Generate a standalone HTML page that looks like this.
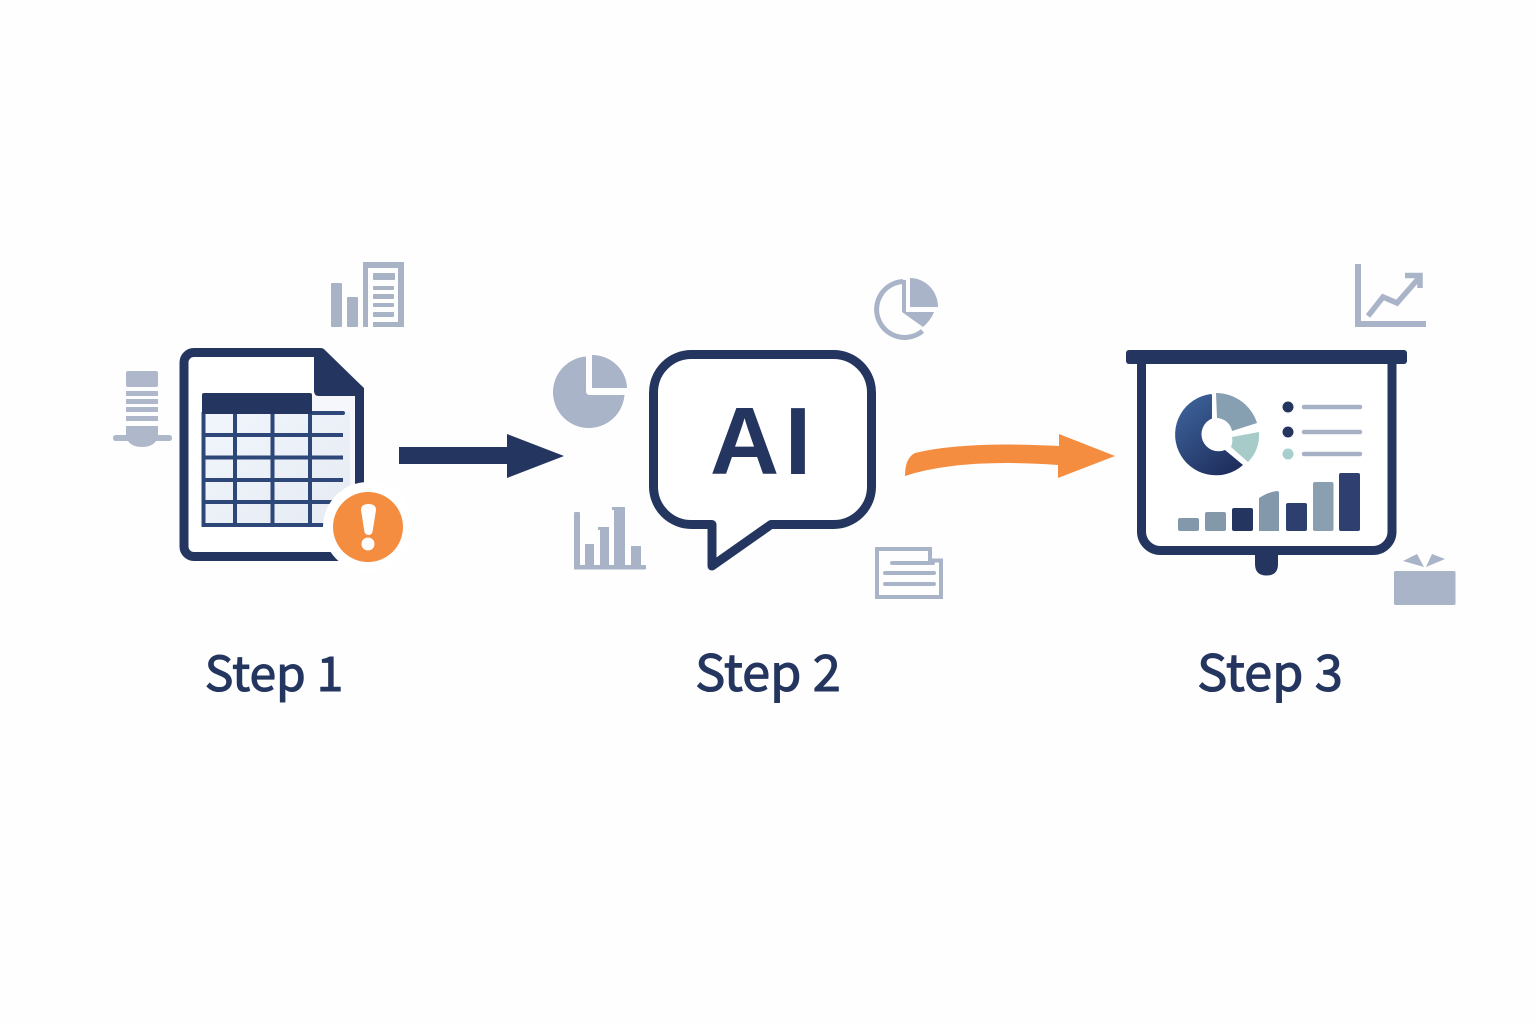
<!DOCTYPE html>
<html><head><meta charset="utf-8"><title>Step 1, Step 2, Step 3</title>
<style>html,body{margin:0;padding:0;background:#fefefe}svg{display:block}</style></head>
<body>
<svg width="1536" height="1024" viewBox="0 0 1536 1024" xmlns="http://www.w3.org/2000/svg">
<defs>
<linearGradient id="dk" x1="0.2" y1="0.1" x2="0.8" y2="0.95"><stop offset="0" stop-color="#3b5f96"/><stop offset="1" stop-color="#1f2f5e"/></linearGradient>
<linearGradient id="cell" x1="0" y1="0" x2="1" y2="1"><stop offset="0" stop-color="#f1f5fc"/><stop offset="1" stop-color="#e6eaf2"/></linearGradient>
</defs>
<rect width="1536" height="1024" fill="#fefefe"/>

<!-- Step 1 document -->
<path d="M194 352.500H321L359.500 390V556.500H194A10 10 0 0 1 184 546.500V362.500A10 10 0 0 1 194 352.500Z" fill="#fff" stroke="#24365f" stroke-width="9" stroke-linejoin="round"/>
<path d="M314 355H325L364 388V396H319Q314 396 314 391Z" fill="#24365f"/>
<rect x="312" y="396" width="43" height="130" fill="#f5f7fc"/>
<rect x="204" y="412" width="146" height="113" fill="url(#cell)"/>
<g stroke="#2d4878" stroke-width="4" fill="none">
<path d="M204 435H343M204 457.500H343M204 480H343M204 502H343"/>
<path d="M204 525H335M203.500 412V527M235 412V527M272.500 412V527M310 412V527"/>
<path d="M312 413H343" stroke-linecap="round"/>
</g>
<rect x="202" y="393" width="110" height="21" rx="2" fill="#24365f"/>
<circle cx="368" cy="527" r="45" fill="#fff"/>
<circle cx="368" cy="527" r="35" fill="#f48d3f"/>
<path d="M361 510Q361 504 368.500 504Q376 504 376 510L372.500 532Q371.500 535 368.500 535Q365.500 535 364.500 532Z" fill="#fff"/>
<circle cx="368" cy="544" r="6.500" fill="#fff"/>

<!-- bars+doc icon -->
<g fill="#a8b3c6">
<rect x="331" y="283" width="11" height="44" rx="1"/>
<rect x="347" y="297" width="11" height="30" rx="1"/>
<path d="M363 262H404V327H373V322H398V268H368V327H363Z"/>
<rect x="373" y="273" width="22" height="7" rx="1"/>
<rect x="373" y="286" width="21" height="4" rx="1"/>
<rect x="373" y="294" width="21" height="5" rx="1"/>
<rect x="373" y="303" width="21" height="4" rx="1"/>
<rect x="373" y="312" width="21" height="5" rx="1"/>
</g>

<!-- hat icon -->
<g fill="#aeb8ca">
<rect x="126" y="371" width="32" height="16" rx="2"/>
<rect x="126" y="391" width="32" height="5"/>
<rect x="126" y="399" width="32" height="5"/>
<rect x="126" y="407" width="32" height="5"/>
<rect x="126" y="416" width="32" height="5"/>
<path d="M126 426H158V435H169Q172 435 172 438Q172 441 169 441H156Q152 447 142 447Q132 447 128 441H116Q113 441 113 438Q113 435 116 435H126Z"/>
</g>

<!-- Arrow 1 -->
<path d="M399 447H507V434L564 456L507 478V464H399Z" fill="#24365f"/>

<!-- left pie -->
<g fill="#a9b4c8">
<path d="M586 356.500V391Q586 395 590 395H624.500A35.800 35.800 0 1 1 586 356.500Z"/>
<path d="M592 355A35 34 0 0 1 627 388H592Z"/>
</g>

<!-- top-right pie -->
<g>
<path d="M903 281.500A28 28 0 1 0 922.500 331" fill="none" stroke="#a9b4c8" stroke-width="5"/>
<path d="M910 278A28 29 0 0 1 938 307H910Z" fill="#a9b4c8"/>
<path d="M902 280V312L923 327Q931 320 934 312H906V280Z" fill="#a9b4c8"/>
</g>

<!-- lower-left bar chart -->
<g fill="#a8b3c7">
<rect x="574" y="512" width="6" height="57" rx="1"/>
<rect x="574" y="565" width="72" height="4.500" rx="1"/>
<rect x="585" y="544" width="9" height="22"/>
<path d="M598 527H609V566H600V530H598Z"/>
<path d="M612 507H625V566H614V510H612Z"/>
<rect x="631" y="546" width="10" height="20"/>
</g>

<!-- doc lower-right -->
<g fill="none" stroke="#a9b4c8" stroke-width="4">
<path d="M877 549H930V560.500H941V597H877Z"/>
<path d="M892 563H933M885 573H934M885 584H934" stroke-linecap="round"/>
</g>

<!-- Speech bubble -->
<path d="M691.500 354.500H833.500A38 38 0 0 1 871.500 392.500V486.500A38 38 0 0 1 833.500 524.500H771L712 566V524.500H691.500A38 38 0 0 1 653.500 486.500V392.500A38 38 0 0 1 691.500 354.500Z" fill="#fff" stroke="#24365f" stroke-width="9" stroke-linejoin="round"/>
<text x="744.500" y="474" text-anchor="middle" font-family="'Liberation Sans',sans-serif" font-weight="700" font-size="96" fill="#24365f">A</text>
<text x="798" y="474" text-anchor="middle" font-family="'Liberation Sans',sans-serif" font-weight="700" font-size="96" fill="#24365f">I</text>

<!-- Orange arrow -->
<path d="M905 476Q905 458 915 453Q965 441 1059 446V434L1115 456L1058 478V465Q960 458 905 476Z" fill="#f48d3f"/>

<!-- Presentation -->
<path d="M1141.500 360V531.500A19 19 0 0 0 1160.500 550.500H1373A19 19 0 0 0 1392 531.500V360" fill="#fff" stroke="#24365f" stroke-width="9"/>
<rect x="1126" y="350" width="281" height="14" rx="3" fill="#24365f"/>
<path d="M1255 555H1278V564Q1278 575.500 1266.500 575.500Q1255 575.500 1255 564Z" fill="#24365f"/>

<!-- donut -->
<path d="M1211 394Q1212 394 1212 396L1212 418.500A17 17 0 0 0 1225 450L1243 465A40.800 40.800 0 1 1 1211 394Z" fill="url(#dk)"/>
<path d="M1216 393A43 43 0 0 1 1257 423L1232 431A16 16 0 0 0 1217 418Z" fill="#87a0b1"/>
<path d="M1232 437L1259 432Q1260 450 1248 462L1231 447Q1233 442 1232 437Z" fill="#a6cbc9"/>

<circle cx="1288" cy="407" r="5.500" fill="#24365f"/>
<circle cx="1288" cy="432" r="5.500" fill="#24365f"/>
<circle cx="1288" cy="454" r="5.500" fill="#a6cfcd"/>
<g stroke="#a7b1c6" stroke-width="4.500" stroke-linecap="round">
<path d="M1304 407H1360M1304 432H1360M1304 454H1360"/>
</g>

<g>
<rect x="1178" y="518" width="21" height="13" rx="2" fill="#8498ab"/>
<rect x="1205" y="512" width="21" height="19" rx="2" fill="#8498ab"/>
<rect x="1232" y="508" width="21" height="23" rx="2" fill="#24365f"/>
<path d="M1259 498Q1268 492 1277 491Q1279 491 1279 493V531H1259Z" fill="#8498ab"/>
<rect x="1286" y="503" width="21" height="28" rx="2" fill="#2c3f6f"/>
<rect x="1313" y="482" width="20.500" height="49" rx="2" fill="#8a9fb0"/>
<rect x="1339" y="473" width="21" height="58" rx="2" fill="#2f4070"/>
</g>

<!-- growth chart -->
<g fill="none" stroke="#aab4c9">
<path d="M1358 264V324H1426" stroke-width="6"/>
<path d="M1368 316L1383 297L1397 303L1418 279" stroke-width="5.500"/>
<path d="M1405 275.500H1420V288" stroke-width="5.500"/>
</g>

<!-- gift -->
<g fill="#a9b4c8">
<rect x="1394" y="571" width="61.500" height="34" rx="1.500"/>
<path d="M1403 561L1417 554L1424 567Z"/>
<path d="M1426 567L1432 554L1445 559Z"/>
</g>

<!-- Labels -->
<g font-family="'Noto Sans CJK JP','Liberation Sans',sans-serif" font-weight="400" fill="#24365f" stroke="#24365f" stroke-width="1.100" text-anchor="middle">
<text x="274" y="691" font-size="48">Step 1</text>
<text x="768" y="691" font-size="50.500">Step 2</text>
<text x="1270" y="691" font-size="50.500">Step 3</text>
</g>
</svg>
</body></html>
